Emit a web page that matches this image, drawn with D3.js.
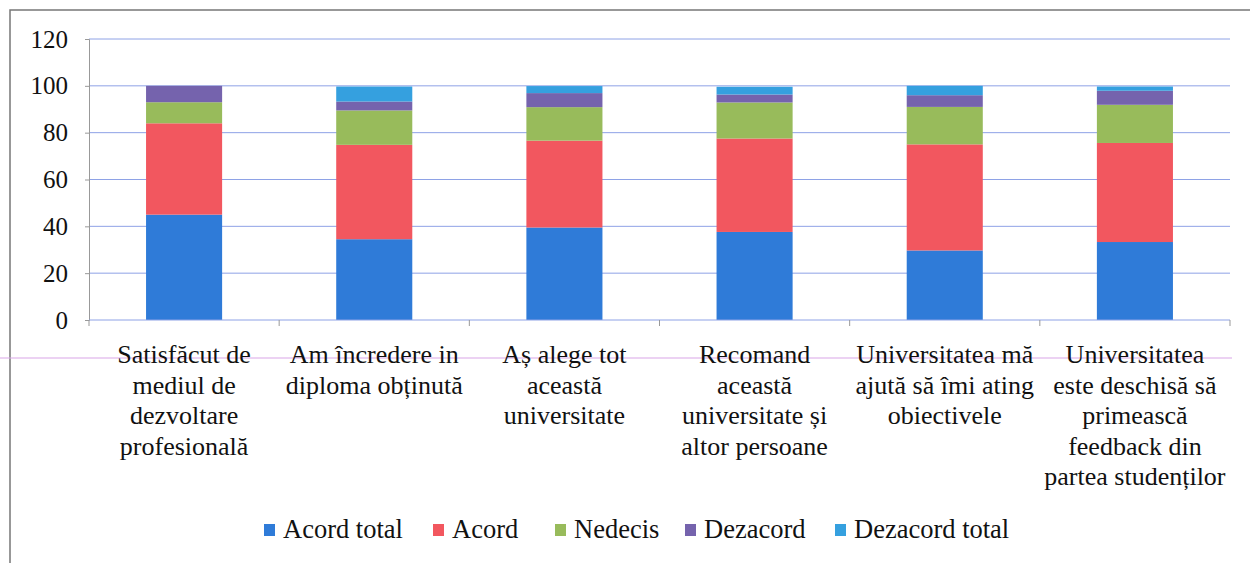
<!DOCTYPE html>
<html><head><meta charset="utf-8">
<script src="https://cdn.jsdelivr.net/npm/d3@7"></script>
<style>body{margin:0;background:#fff}svg{display:block}</style>
</head><body>
<svg id="c" width="1250" height="563"></svg>
<script>
const categories = [
  ["Satisfăcut de","mediul de","dezvoltare","profesională"],
  ["Am încredere in","diploma obținută"],
  ["Aș alege tot","această","universitate"],
  ["Recomand","această","universitate și","altor persoane"],
  ["Universitatea mă","ajută să îmi ating","obiectivele"],
  ["Universitatea","este deschisă să","primească","feedback din","partea studenților"]
];
const seriesNames = ["Acord total","Acord","Nedecis","Dezacord","Dezacord total"];
const acordTotal    = [45, 34.5, 39.5, 37.6, 29.7, 33.3];
const acord         = [39, 40.3, 37.1, 39.9, 45.3, 42.3];
const nedecis       = [9, 14.7, 14.3, 15.4, 16, 16.3];
const dezacord      = [7, 3.8, 6, 3.4, 5, 6];
const dezacordTotal = [0, 6.4, 3, 3.3, 4, 1.8];
const yTicks = [0,20,40,60,80,100,120];
const colors = ["#2f7bd8","#f2575f","#98bb5b","#7563ad","#35a0df"];

// pick an installed serif font
const ctx = document.createElement("canvas").getContext("2d");
const probe = "Satisfăcut abcdefgWWMiil 0123";
function w(f){ ctx.font = "40px " + f; return ctx.measureText(probe).width; }
const wm = w("monospace");
const cands = ["Liberation Serif","Tinos","Times New Roman","Times","Noto Serif","DejaVu Serif","FreeSerif","Nimbus Roman","serif"];
let SERIF = "serif";
for (const c of cands){ const a = w(`"${c}", monospace`), b = w(`"${c}", sans-serif`); if (Math.abs(a-b) < 0.5 && Math.abs(a-wm) > 0.5){ SERIF = `"${c}"`; break; } }

const svg = d3.select("#c");
const mLeft = 89, mRight = 1230, mTop = 39, mBottom = 320;
const x = d3.scaleBand().domain(d3.range(categories.length)).range([mLeft, mRight]).paddingInner(0.6).paddingOuter(0.3);
const xb = d3.scaleBand().domain(d3.range(categories.length)).range([mLeft, mRight]);
const y = d3.scaleLinear().domain([0,120]).range([mBottom, mTop]);

// border
svg.append("path").attr("d","M10,563V10H1250").attr("fill","none").attr("stroke","#777").attr("stroke-width",1.5);

// gridlines
svg.append("g").selectAll("line").data(yTicks.filter(d=>d>0)).join("line")
  .attr("x1",mLeft).attr("x2",mRight).attr("y1",d=>y(d)).attr("y2",d=>y(d))
  .attr("stroke","#8ea2e6").attr("stroke-width",1);

// stacks
const rows = categories.map((c,i)=>({i, "Acord total":acordTotal[i], "Acord":acord[i], "Nedecis":nedecis[i], "Dezacord":dezacord[i], "Dezacord total":dezacordTotal[i]}));
const stack = d3.stack().keys(seriesNames)(rows);
svg.append("g").selectAll("g").data(stack).join("g").attr("fill",(d,k)=>colors[k])
  .selectAll("rect").data(d=>d).join("rect")
  .attr("x",d=>x(d.data.i)).attr("width",x.bandwidth())
  .attr("y",d=>y(d[1])).attr("height",d=>y(d[0])-y(d[1]));

// y axis
const ya = svg.append("g").attr("transform",`translate(${mLeft},0)`)
  .call(d3.axisLeft(y).tickValues(yTicks).tickSize(4).tickPadding(17));
ya.attr("font-family", SERIF).attr("font-size",25);
ya.select(".domain").attr("stroke","#999");
ya.selectAll(".tick line").attr("stroke","#999");
ya.selectAll("text").style("font-family", SERIF).attr("fill","#111");

// x axis
const xa = svg.append("g").attr("transform",`translate(0,${mBottom})`);
xa.append("line").attr("x1",mLeft).attr("x2",mRight).attr("stroke","#8ea2e6");
xa.selectAll("line.t").data(d3.range(categories.length+1)).join("line").attr("class","t")
  .attr("x1",i=>i<categories.length?xb(i):mRight).attr("x2",i=>i<categories.length?xb(i):mRight)
  .attr("y1",0).attr("y2",6).attr("stroke","#999");

// scan line
svg.append("line").attr("x1",0).attr("x2",1232).attr("y1",358).attr("y2",358).attr("stroke","#d9a6e8").attr("stroke-width",1.2);

// category labels
const lab = svg.append("g").attr("font-size",26).attr("fill","#111").attr("text-anchor","middle");
categories.forEach((lines,i)=>{
  const cx = xb(i)+xb.bandwidth()/2;
  const t = lab.append("text").style("font-family", SERIF).attr("x",cx).attr("y",363);
  lines.forEach((l,j)=>t.append("tspan").attr("x",cx).attr("dy",j?30.5:0).text(l));
});

// legend
const legX = [264,433,555,685,835];
const lg = svg.append("g").attr("font-size",26.5).attr("fill","#111");
seriesNames.forEach((s,k)=>{
  lg.append("rect").attr("x",legX[k]).attr("y",524).attr("width",11).attr("height",12).attr("fill",colors[k]);
  lg.append("text").style("font-family", SERIF).attr("x",legX[k]+19).attr("y",538).text(s);
});
</script>
</body></html>
